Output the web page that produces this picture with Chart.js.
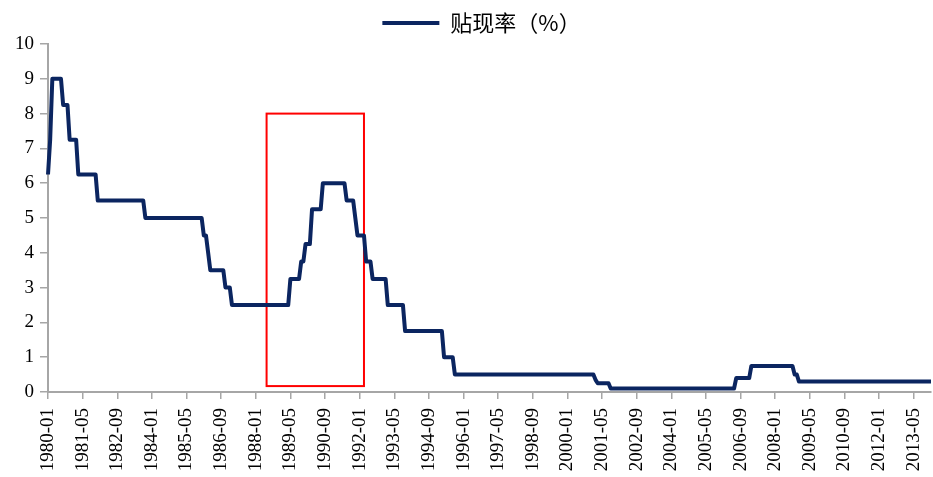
<!DOCTYPE html>
<html>
<head>
<meta charset="utf-8">
<script src="https://cdn.jsdelivr.net/npm/chart.js@4.4.1/dist/chart.umd.min.js"></script>
<style>
  html, body { margin: 0; padding: 0; background: #fff; }
  #wrap { width: 933px; height: 477px; }
</style>
</head>
<body>
<div id="wrap"><canvas id="chart" width="933" height="477"></canvas></div>
<script>
// monthly discount rate (%), one row per year, Jan..Dec
const rateByYear = {
  1980: [6.25, 7.25, 9, 9, 9, 9, 9, 8.25, 8.25, 8.25, 7.25, 7.25],
  1981: [7.25, 7.25, 6.25, 6.25, 6.25, 6.25, 6.25, 6.25, 6.25, 6.25, 6.25, 5.5],
  1982: [5.5, 5.5, 5.5, 5.5, 5.5, 5.5, 5.5, 5.5, 5.5, 5.5, 5.5, 5.5],
  1983: [5.5, 5.5, 5.5, 5.5, 5.5, 5.5, 5.5, 5.5, 5.5, 5, 5, 5],
  1984: [5, 5, 5, 5, 5, 5, 5, 5, 5, 5, 5, 5],
  1985: [5, 5, 5, 5, 5, 5, 5, 5, 5, 5, 5, 5],
  1986: [4.5, 4.5, 4, 3.5, 3.5, 3.5, 3.5, 3.5, 3.5, 3.5, 3, 3],
  1987: [3, 2.5, 2.5, 2.5, 2.5, 2.5, 2.5, 2.5, 2.5, 2.5, 2.5, 2.5],
  1988: [2.5, 2.5, 2.5, 2.5, 2.5, 2.5, 2.5, 2.5, 2.5, 2.5, 2.5, 2.5],
  1989: [2.5, 2.5, 2.5, 2.5, 3.25, 3.25, 3.25, 3.25, 3.25, 3.75, 3.75, 4.25],
  1990: [4.25, 4.25, 5.25, 5.25, 5.25, 5.25, 5.25, 6, 6, 6, 6, 6],
  1991: [6, 6, 6, 6, 6, 6, 5.5, 5.5, 5.5, 5.5, 5, 4.5],
  1992: [4.5, 4.5, 4.5, 3.75, 3.75, 3.75, 3.25, 3.25, 3.25, 3.25, 3.25, 3.25],
  1993: [3.25, 2.5, 2.5, 2.5, 2.5, 2.5, 2.5, 2.5, 2.5, 1.75, 1.75, 1.75],
  1994: [1.75, 1.75, 1.75, 1.75, 1.75, 1.75, 1.75, 1.75, 1.75, 1.75, 1.75, 1.75],
  1995: [1.75, 1.75, 1.75, 1, 1, 1, 1, 1, 0.5, 0.5, 0.5, 0.5],
  1996: [0.5, 0.5, 0.5, 0.5, 0.5, 0.5, 0.5, 0.5, 0.5, 0.5, 0.5, 0.5],
  1997: [0.5, 0.5, 0.5, 0.5, 0.5, 0.5, 0.5, 0.5, 0.5, 0.5, 0.5, 0.5],
  1998: [0.5, 0.5, 0.5, 0.5, 0.5, 0.5, 0.5, 0.5, 0.5, 0.5, 0.5, 0.5],
  1999: [0.5, 0.5, 0.5, 0.5, 0.5, 0.5, 0.5, 0.5, 0.5, 0.5, 0.5, 0.5],
  2000: [0.5, 0.5, 0.5, 0.5, 0.5, 0.5, 0.5, 0.5, 0.5, 0.5, 0.5, 0.5],
  2001: [0.5, 0.35, 0.25, 0.25, 0.25, 0.25, 0.25, 0.25, 0.1, 0.1, 0.1, 0.1],
  2002: [0.1, 0.1, 0.1, 0.1, 0.1, 0.1, 0.1, 0.1, 0.1, 0.1, 0.1, 0.1],
  2003: [0.1, 0.1, 0.1, 0.1, 0.1, 0.1, 0.1, 0.1, 0.1, 0.1, 0.1, 0.1],
  2004: [0.1, 0.1, 0.1, 0.1, 0.1, 0.1, 0.1, 0.1, 0.1, 0.1, 0.1, 0.1],
  2005: [0.1, 0.1, 0.1, 0.1, 0.1, 0.1, 0.1, 0.1, 0.1, 0.1, 0.1, 0.1],
  2006: [0.1, 0.1, 0.1, 0.1, 0.1, 0.1, 0.4, 0.4, 0.4, 0.4, 0.4, 0.4],
  2007: [0.4, 0.75, 0.75, 0.75, 0.75, 0.75, 0.75, 0.75, 0.75, 0.75, 0.75, 0.75],
  2008: [0.75, 0.75, 0.75, 0.75, 0.75, 0.75, 0.75, 0.75, 0.75, 0.5, 0.5, 0.3],
  2009: [0.3, 0.3, 0.3, 0.3, 0.3, 0.3, 0.3, 0.3, 0.3, 0.3, 0.3, 0.3],
  2010: [0.3, 0.3, 0.3, 0.3, 0.3, 0.3, 0.3, 0.3, 0.3, 0.3, 0.3, 0.3],
  2011: [0.3, 0.3, 0.3, 0.3, 0.3, 0.3, 0.3, 0.3, 0.3, 0.3, 0.3, 0.3],
  2012: [0.3, 0.3, 0.3, 0.3, 0.3, 0.3, 0.3, 0.3, 0.3, 0.3, 0.3, 0.3],
  2013: [0.3, 0.3, 0.3, 0.3, 0.3, 0.3, 0.3, 0.3, 0.3, 0.3, 0.3, 0.3],
  2014: [0.3]
};

const seriesName = "贴现率（%）";
const tickEvery = 16; // one label every 16 months: 1980-01, 1981-05, ...

// highlighted period (red box)
const boxFrom = "1988-06";
const boxTo = "1992-03";
const boxLow = 0.17;
const boxHigh = 8;

const months = [];
const rates = [];
Object.keys(rateByYear).forEach(y => {
  rateByYear[y].forEach((v, i) => {
    months.push(y + "-" + String(i + 1).padStart(2, "0"));
    rates.push(v);
  });
});

const lineColor = "#0b2560";
const axisColor = "#a6a6a6";
const serif = "'Liberation Serif', 'Times New Roman', serif";

const highlightBox = {
  id: "highlightBox",
  beforeDatasetsDraw(chart) {
    const { ctx, scales } = chart;
    const x1 = scales.x.getPixelForValue(months.indexOf(boxFrom));
    const x2 = scales.x.getPixelForValue(months.indexOf(boxTo));
    const y1 = scales.y.getPixelForValue(boxHigh);
    const y2 = scales.y.getPixelForValue(boxLow);
    ctx.save();
    ctx.strokeStyle = "#ff0000";
    ctx.lineWidth = 2;
    ctx.strokeRect(x1, y1, x2 - x1, y2 - y1);
    ctx.restore();
  }
};

// center the legend over the plot area, like the original
const legendOverPlot = {
  id: "legendOverPlot",
  afterLayout(chart) {
    const lg = chart.legend;
    if (!lg) return;
    lg.left = chart.chartArea.left - 8;
    lg.right = chart.chartArea.right - 8;
  }
};

new Chart(document.getElementById("chart"), {
  type: "line",
  data: {
    labels: months,
    datasets: [{
      label: seriesName,
      data: rates,
      borderColor: lineColor,
      backgroundColor: lineColor,
      borderWidth: 4,
      pointRadius: 0,
      tension: 0,
      borderJoinStyle: "round",
      fill: false
    }]
  },
  options: {
    responsive: false,
    animation: false,
    devicePixelRatio: 1,
    layout: { padding: { left: 0, right: 2, top: 1, bottom: 0 } },
    plugins: {
      tooltip: { enabled: false },
      legend: {
        position: "top",
        labels: {
          boxWidth: 57,
          boxHeight: 4,
          padding: 11,
          color: "#000",
          font: { family: "'Noto Sans CJK SC', sans-serif", size: 22 },
          generateLabels: (chart) => [{
            text: seriesName,
            fillStyle: lineColor,
            strokeStyle: lineColor,
            lineWidth: 0,
            datasetIndex: 0
          }]
        }
      }
    },
    scales: {
      x: {
        type: "category",
        offset: false,
        grid: {
          drawOnChartArea: false,
          drawTicks: true,
          tickLength: 7,
          color: axisColor,
          lineWidth: 1.5
        },
        border: { display: true, color: axisColor, width: 2 },
        ticks: {
          autoSkip: false,
          minRotation: 90,
          maxRotation: 90,
          padding: 9,
          color: "#000",
          font: { family: serif, size: 19 }
        },
        afterBuildTicks(scale) {
          scale.ticks = scale.ticks.filter(t => t.value % tickEvery === 0);
        },
        afterFit(scale) {
          scale.height = 85;
          scale.paddingLeft = 0;
          scale.paddingRight = 0;
        }
      },
      y: {
        min: 0,
        max: 10,
        ticks: {
          stepSize: 1,
          padding: 6,
          color: "#000",
          font: { family: serif, size: 19 }
        },
        grid: {
          drawOnChartArea: false,
          drawTicks: true,
          tickLength: 8,
          color: axisColor,
          lineWidth: 1.5
        },
        border: { display: true, color: axisColor, width: 2 },
        afterFit(scale) {
          scale.width = 48;
        }
      }
    }
  },
  plugins: [highlightBox, legendOverPlot]
});
</script>
</body>
</html>
